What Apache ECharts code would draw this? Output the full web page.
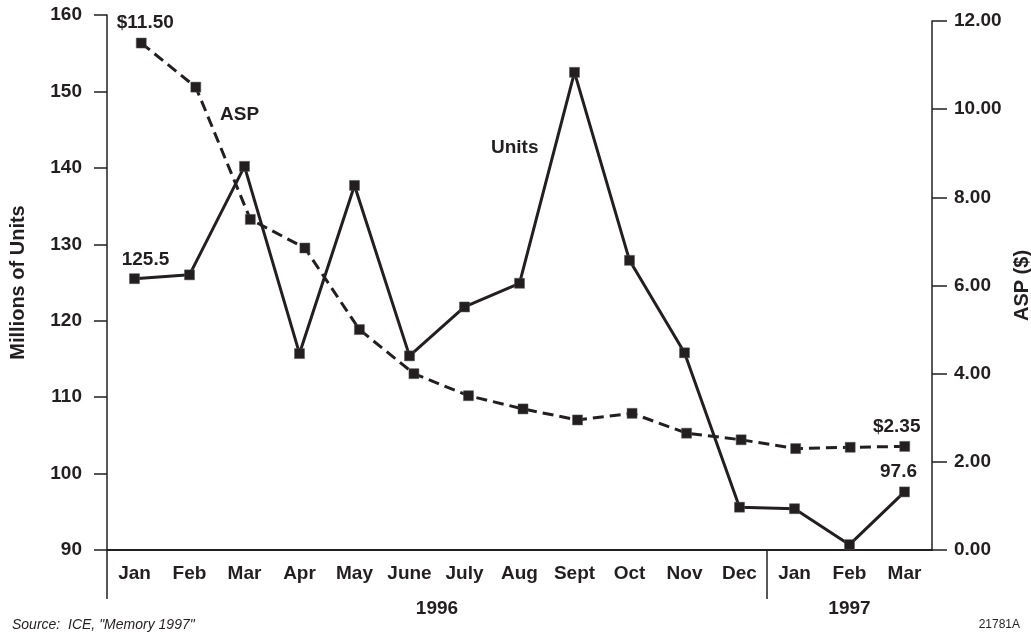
<!DOCTYPE html>
<html>
<head>
<meta charset="utf-8">
<title>Units and ASP</title>
<script src="https://cdn.jsdelivr.net/npm/echarts@6/dist/echarts.min.js"></script>
<style>
  html, body { margin: 0; padding: 0; background: #fff; }
  #chart { width: 1031px; height: 641px; }
</style>
</head>
<body>
<div id="chart"></div>
<script>
// months, 1996 then 1997
var months = ['Jan', 'Feb', 'Mar', 'Apr', 'May', 'June', 'July', 'Aug', 'Sept', 'Oct', 'Nov', 'Dec', 'Jan', 'Feb', 'Mar'];
var years = ['1996', '1997'];
var yearStart = [0, 12];          // index of first month of each year
var yearMid = [6, 13.5];          // label position, in months
// millions of units
var units = [125.5, 126.0, 140.2, 115.7, 137.7, 115.4, 121.8, 124.9, 152.5, 127.9, 115.8, 95.6, 95.4, 90.7, 97.6];
// average selling price, $
var asp = [11.5, 10.5, 7.5, 6.85, 5.0, 4.0, 3.5, 3.2, 2.95, 3.1, 2.65, 2.5, 2.3, 2.33, 2.35];

var ink = '#231f20';
var font = 'Liberation Sans';
var txt = { color: ink, fontFamily: font, fontWeight: 'bold', fontSize: 19 };
var nameTxt = { color: ink, fontFamily: font, fontWeight: 'bold', fontSize: 20 };

function withEndLabels(vals, first, last) {
    return vals.map(function (v, i) {
        if (i === 0) return { value: v, label: first };
        if (i === vals.length - 1) return { value: v, label: last };
        return v;
    });
}

var chart = echarts.init(document.getElementById('chart'));

var option = {
    animation: false,
    backgroundColor: '#fff',
    textStyle: { fontFamily: font },
    title: [
        { text: 'Source:  ICE, "Memory 1997"', left: 7, top: 613,
          textStyle: { fontFamily: font, fontSize: 14, fontStyle: 'italic', fontWeight: 'normal', color: ink } },
        { text: '21781A', right: 6, top: 614,
          textStyle: { fontFamily: font, fontSize: 12, fontWeight: 'normal', color: ink } }
    ],
    graphic: [
        { type: 'text', left: 220, top: 105, style: { text: 'ASP', fill: ink, font: 'bold 19px ' + font } },
        { type: 'text', left: 491, top: 138, style: { text: 'Units', fill: ink, font: 'bold 19px ' + font } }
    ],
    grid: [
        { left: 107, top: 15, width: 825, height: 535, outerBoundsMode: 'none', containLabel: false },
        { left: 114, top: 21, width: 818, height: 529, outerBoundsMode: 'none', containLabel: false }
    ],
    xAxis: [
        {
            type: 'category', gridIndex: 0, data: months, boundaryGap: true,
            axisLine: { lineStyle: { color: ink, width: 2 } },
            axisTick: { length: 13, lineStyle: { color: ink, width: 1.5 } },
            axisLabel: Object.assign({ margin: 14, interval: 0 }, txt),
            splitLine: { show: false }
        },
        { type: 'category', gridIndex: 1, data: months, boundaryGap: true, show: false },
        {
            // year row under the months
            type: 'value', gridIndex: 0, position: 'bottom', min: 0, max: months.length,
            axisLine: { show: false },
            axisTick: { show: true, length: 49, customValues: yearStart, lineStyle: { color: ink, width: 1.5 } },
            axisLabel: Object.assign({
                margin: 49, customValues: yearMid,
                formatter: function (v) { return years[yearMid.indexOf(v)] || ''; }
            }, txt),
            splitLine: { show: false }
        }
    ],
    yAxis: [
        {
            type: 'value', gridIndex: 0, min: 90, max: 160, interval: 10,
            name: 'Millions of Units', nameLocation: 'middle', nameGap: 79, nameRotate: 90,
            nameTextStyle: nameTxt,
            axisLine: { show: true, lineStyle: { color: ink, width: 1.5 } },
            axisTick: { show: true, length: 13, lineStyle: { color: ink, width: 1.5 } },
            axisLabel: Object.assign({ margin: 25 }, txt),
            splitLine: { show: false }
        },
        {
            type: 'value', gridIndex: 1, position: 'right', min: 0, max: 12, interval: 2,
            name: 'ASP ($)', nameLocation: 'middle', nameGap: 77, nameRotate: 90,
            nameTextStyle: nameTxt,
            axisLine: { show: true, lineStyle: { color: ink, width: 1.5 } },
            axisTick: { show: true, length: 15, lineStyle: { color: ink, width: 1.5 } },
            axisLabel: Object.assign({ margin: 22, formatter: function (v) { return v.toFixed(2); } }, txt),
            splitLine: { show: false }
        }
    ],
    series: [
        {
            name: 'Units', type: 'line', xAxisIndex: 0, yAxisIndex: 0,
            data: withEndLabels(units,
                { show: true, position: 'top', distance: 4, offset: [11, 0], formatter: '{c}' },
                { show: true, position: 'top', distance: 5, offset: [-6, 0], formatter: '{c}' }),
            symbol: 'rect', symbolSize: 10, showAllSymbol: true,
            lineStyle: { color: ink, width: 3 },
            itemStyle: { color: ink, borderColor: '#555', borderWidth: 0.5 },
            label: txt
        },
        {
            name: 'ASP', type: 'line', xAxisIndex: 1, yAxisIndex: 1,
            data: withEndLabels(asp,
                { show: true, position: 'top', distance: 6, offset: [4, 0] },
                { show: true, position: 'top', distance: 5, offset: [-8, 0] }),
            symbol: 'rect', symbolSize: 10, showAllSymbol: true,
            lineStyle: { color: ink, width: 3, type: [11, 6] },
            itemStyle: { color: ink, borderColor: '#555', borderWidth: 0.5 },
            label: Object.assign({ formatter: function (p) { return '$' + p.value.toFixed(2); } }, txt)
        }
    ]
};

chart.setOption(option);
</script>
</body>
</html>
